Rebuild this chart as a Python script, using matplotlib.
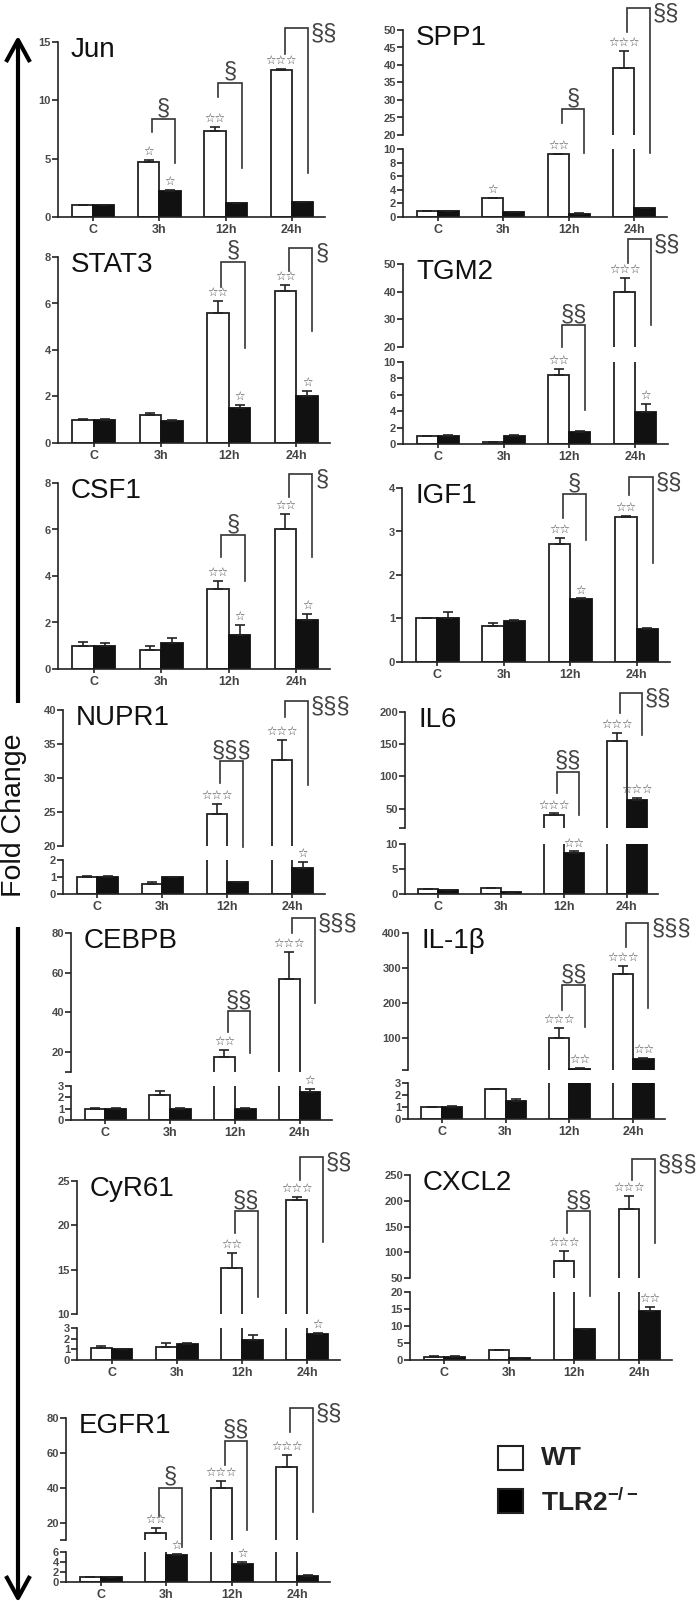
import matplotlib.pyplot as plt
import numpy as np
from matplotlib.lines import Line2D

plt.rcParams['font.family'] = ['Liberation Sans', 'DejaVu Sans']
plt.rcParams['mathtext.fontset'] = 'custom'
plt.rcParams['mathtext.bf'] = 'Liberation Sans:bold'
plt.rcParams['mathtext.rm'] = 'Liberation Sans'

CATS = ['C', '3h', '12h', '24h']

# values: WT (open bars) and TLR2-/- (filled bars), fold change
JUN_WT = [1.0, 4.75, 7.35, 12.6]
JUN_WT_ERR = [0.03, 0.15, 0.35, 0.08]
JUN_KO = [1.0, 2.25, 1.2, 1.25]
JUN_KO_ERR = [0.05, 0.06, 0.04, 0.06]
JUN_WT_STARS = [0, 1, 2, 3]
JUN_KO_STARS = [0, 1, 0, 0]
JUN_SIG = [(1, 7.3, 8.4, 4.6, 1, 'top'), (2, 10.3, 11.5, 4.2, 1, 'top'), (3, 14.0, 16.2, 3.8, 2, 'right')]

SPP1_WT = [0.9, 2.75, 9.2, 39.0]
SPP1_WT_ERR = [0.05, 0.1, 0.12, 5.0]
SPP1_KO = [0.9, 0.75, 0.5, 1.25]
SPP1_KO_ERR = [0.05, 0.05, 0.05, 0.05]
SPP1_WT_STARS = [0, 1, 2, 3]
SPP1_KO_STARS = [0, 0, 0, 0]
SPP1_SIG = [(2, 23.4, 27.4, 14.9, 1, 'top'), (3, 49.4, 56.3, 14.9, 2, 'right')]

STAT3_WT = [1.0, 1.22, 5.6, 6.55]
STAT3_WT_ERR = [0.02, 0.05, 0.5, 0.25]
STAT3_KO = [1.0, 0.93, 1.5, 2.03]
STAT3_KO_ERR = [0.02, 0.04, 0.15, 0.22]
STAT3_WT_STARS = [0, 0, 2, 2]
STAT3_KO_STARS = [0, 0, 1, 1]
STAT3_SIG = [(2, 6.7, 7.8, 4.1, 1, 'top'), (3, 7.4, 8.4, 4.8, 1, 'right')]

TGM2_WT = [0.95, 0.25, 8.4, 40.0]
TGM2_WT_ERR = [0.03, 0.05, 0.8, 5.0]
TGM2_KO = [1.0, 1.0, 1.5, 3.9]
TGM2_KO_ERR = [0.05, 0.1, 0.05, 1.0]
TGM2_WT_STARS = [0, 0, 2, 3]
TGM2_KO_STARS = [0, 0, 0, 1]
TGM2_SIG = [(2, 20.0, 27.9, -2.7, 2, 'top'), (3, 50.3, 59.0, 27.9, 2, 'right')]

CSF1_WT = [1.0, 0.82, 3.42, 6.0]
CSF1_WT_ERR = [0.15, 0.18, 0.35, 0.65]
CSF1_KO = [1.0, 1.1, 1.48, 2.12]
CSF1_KO_ERR = [0.1, 0.25, 0.4, 0.25]
CSF1_WT_STARS = [0, 0, 2, 2]
CSF1_KO_STARS = [0, 0, 1, 1]
CSF1_SIG = [(2, 4.8, 5.76, 3.8, 1, 'top'), (3, 7.4, 8.4, 4.8, 1, 'right')]

IGF1_WT = [1.0, 0.83, 2.72, 3.33]
IGF1_WT_ERR = [0.01, 0.06, 0.12, 0.02]
IGF1_KO = [1.0, 0.95, 1.44, 0.77]
IGF1_KO_ERR = [0.15, 0.02, 0.02, 0.02]
IGF1_WT_STARS = [0, 0, 2, 2]
IGF1_KO_STARS = [0, 0, 1, 0]
IGF1_SIG = [(2, 3.3, 3.86, 2.8, 1, 'top'), (3, 3.85, 4.25, 2.27, 2, 'right')]

NUPR1_WT = [1.0, 0.58, 24.7, 32.7]
NUPR1_WT_ERR = [0.06, 0.1, 1.5, 2.9]
NUPR1_KO = [1.0, 1.0, 0.7, 1.55]
NUPR1_KO_ERR = [0.06, 0.02, 0.02, 0.35]
NUPR1_WT_STARS = [0, 0, 3, 3]
NUPR1_KO_STARS = [0, 0, 0, 1]
NUPR1_SIG = [(2, 29.3, 32.5, 19.9, 3, 'top'), (3, 39.0, 41.3, 29.0, 3, 'right')]

IL6_WT = [0.9, 1.2, 40.0, 155.0]
IL6_WT_ERR = [0.05, 0.05, 2.5, 13.0]
IL6_KO = [0.8, 0.3, 8.2, 63.0]
IL6_KO_ERR = [0.05, 0.03, 0.3, 4.0]
IL6_WT_STARS = [0, 0, 3, 3]
IL6_KO_STARS = [0, 0, 2, 3]
IL6_SIG = [(2, 74, 107, 40, 2, 'top'), (3, 198, 229, 164, 2, 'right')]

CEBPB_WT = [1.0, 2.2, 17.8, 57.0]
CEBPB_WT_ERR = [0.03, 0.4, 3.2, 13.5]
CEBPB_KO = [1.0, 1.0, 1.0, 2.5]
CEBPB_KO_ERR = [0.02, 0.03, 0.05, 0.25]
CEBPB_WT_STARS = [0, 0, 2, 3]
CEBPB_KO_STARS = [0, 0, 0, 1]
CEBPB_SIG = [(2, 30, 40.7, 19.6, 2, 'top'), (3, 80, 87.5, 44.7, 3, 'right')]

IL1B_WT = [1.0, 2.5, 102, 282]
IL1B_WT_ERR = [0.02, 0.03, 28, 23]
IL1B_KO = [1.0, 1.5, 13, 42]
IL1B_KO_ERR = [0.05, 0.2, 1.5, 3]
IL1B_WT_STARS = [0, 0, 3, 3]
IL1B_KO_STARS = [0, 0, 2, 2]
IL1B_SIG = [(2, 181, 252, 132, 2, 'top'), (3, 360, 429, 187, 3, 'right')]

CYR61_WT = [1.1, 1.2, 15.2, 22.9]
CYR61_WT_ERR = [0.2, 0.35, 1.7, 0.3]
CYR61_KO = [1.0, 1.5, 1.85, 2.45]
CYR61_KO_ERR = [0.03, 0.05, 0.5, 0.08]
CYR61_WT_STARS = [0, 0, 2, 3]
CYR61_KO_STARS = [0, 0, 0, 1]
CYR61_SIG = [(2, 19.1, 21.6, 11.9, 2, 'top'), (3, 25.1, 27.7, 18.1, 2, 'right')]

CXCL2_WT = [1.0, 3.0, 83, 184]
CXCL2_WT_ERR = [0.05, 0.05, 19, 25]
CXCL2_KO = [1.0, 0.5, 9.2, 14.3]
CXCL2_KO_ERR = [0.3, 0.05, 0.05, 1.4]
CXCL2_WT_STARS = [0, 0, 3, 3]
CXCL2_KO_STARS = [0, 0, 0, 2]
CXCL2_SIG = [(2, 137, 180, 15, 2, 'top'), (3, 240, 281, 118, 3, 'right')]

EGFR1_WT = [1.0, 14.0, 40.0, 52.0]
EGFR1_WT_ERR = [0.05, 3.0, 4.0, 6.5]
EGFR1_KO = [1.0, 5.5, 3.7, 1.3]
EGFR1_KO_ERR = [0.05, 0.2, 0.25, 0.1]
EGFR1_WT_STARS = [0, 2, 3, 3]
EGFR1_KO_STARS = [0, 1, 1, 0]
EGFR1_SIG = [(1, 24, 40, 6, 1, 'top'), (2, 53, 67, 16, 2, 'top'), (3, 72, 86, 26, 2, 'right')]

# layout in pixels: x spine, x end, segments (ylim, ytop, ybottom, ticks, hide lowest label)
LAYOUT = {
    'Jun':   (58, 325, [((0, 15), 42, 217, [0, 5, 10, 15], False)]),
    'SPP1':  (403, 667, [((20, 50), 30, 135, [20, 25, 30, 35, 40, 45, 50], False),
                         ((0, 10), 149, 217, [0, 2, 4, 6, 8, 10], False)]),
    'STAT3': (58, 330, [((0, 8), 257, 443, [0, 2, 4, 6, 8], False)]),
    'TGM2':  (403, 668, [((20, 50), 264, 347, [20, 30, 40, 50], False),
                         ((0, 10), 362, 444, [0, 2, 4, 6, 8, 10], False)]),
    'CSF1':  (58, 330, [((0, 8), 483, 669, [0, 2, 4, 6, 8], False)]),
    'IGF1':  (402, 670, [((0, 4), 488, 662, [0, 1, 2, 3, 4], False)]),
    'NUPR1': (63, 325, [((20, 40), 710, 846, [20, 25, 30, 35, 40], False),
                        ((0, 2), 860, 894, [0, 1, 2], False)]),
    'IL6':   (405, 658, [((20, 200), 712, 828, [20, 50, 100, 150, 200], True),
                         ((0, 10), 844, 894, [0, 5, 10], False)]),
    'CEBPB': (71, 332, [((10, 80), 933, 1072, [10, 20, 40, 60, 80], True),
                        ((0, 3), 1086, 1120, [0, 1, 2, 3], False)]),
    'IL-1β': (408, 665, [((10, 400), 933, 1070, [10, 100, 200, 300, 400], True),
                         ((0, 3), 1083, 1119, [0, 1, 2, 3], False)]),
    'CyR61': (77, 340, [((10, 25), 1181, 1314, [10, 15, 20, 25], False),
                        ((0, 3), 1328, 1360, [0, 1, 2, 3], False)]),
    'CXCL2': (410, 672, [((50, 250), 1175, 1278, [50, 100, 150, 200, 250], False),
                         ((0, 20), 1292, 1360, [0, 5, 10, 15, 20], False)]),
    'EGFR1': (66, 330, [((10, 80), 1418, 1540, [10, 20, 40, 60, 80], True),
                        ((0, 6), 1552, 1582, [0, 2, 4, 6], False)]),
}

W, H = 700, 1601
fig = plt.figure(figsize=(7, 16.01), dpi=100)
INK = '#222222'
GREY = '#444444'
BW = 0.32


def px_axes(x0, x1, ytop, ybot):
    ax = fig.add_axes([x0 / W, 1 - ybot / H, (x1 - x0) / W, (ybot - ytop) / H])
    ax.patch.set_visible(False)
    return ax


def panel(name, wt, wt_err, ko, ko_err, wt_stars, ko_stars, sigs):
    x0, x1, segs = LAYOUT[name]
    axes = []
    x = np.arange(len(CATS))
    for i, (ylim, ytop, ybot, ticks, hide) in enumerate(segs):
        ax = px_axes(x0, x1, ytop, ybot)
        last = i == len(segs) - 1
        ax.set_xlim(-0.53, 3.5)
        ax.set_ylim(*ylim)
        for s in ['top', 'right']:
            ax.spines[s].set_visible(False)
        ax.spines['left'].set_linewidth(1.2)
        ax.spines['left'].set_color(INK)
        if last:
            ax.spines['bottom'].set_linewidth(1.2)
            ax.spines['bottom'].set_color(INK)
            ax.set_xticks(x)
            ax.set_xticklabels(CATS, fontweight='bold')
            ax.tick_params(axis='x', length=3, width=1.2, pad=2, labelsize=9, colors=INK,
                           labelcolor='#444444')
        else:
            ax.spines['bottom'].set_visible(False)
            ax.set_xticks([])
        labels = [str(t) for t in ticks]
        if hide:
            labels[0] = ''
        ax.set_yticks(ticks)
        ax.set_yticklabels(labels, fontweight='bold')
        ax.tick_params(axis='y', length=4, width=1.2, pad=1, labelsize=8, colors=INK,
                       labelcolor='#4a4a4a')
        ax.bar(x - BW / 2, wt, BW, color='white', edgecolor=INK, linewidth=1.3)
        ax.bar(x + BW / 2, ko, BW, color='#111111', edgecolor='#111111', linewidth=1.3)
        ax.errorbar(x - BW / 2, wt, yerr=[np.zeros(4), wt_err], fmt='none', ecolor=INK,
                    elinewidth=1.2, capsize=3.5, capthick=1.2)
        ax.errorbar(x + BW / 2, ko, yerr=[np.zeros(4), ko_err], fmt='none', ecolor=INK,
                    elinewidth=1.2, capsize=3.5, capthick=1.2)
        axes.append(ax)
    top_ax = axes[0]
    low_ax = axes[-1]
    low_top = segs[-1][0][1]

    def star(xc, val, n):
        if n == 0:
            return
        ax = low_ax if (len(axes) > 1 and val <= low_top) else top_ax
        ax.annotate('☆' * n, (xc, val), xytext=(0, 1.5), textcoords='offset points',
                    ha='center', va='bottom', fontsize=8.5, color=GREY,
                    family=['DejaVu Sans'], annotation_clip=False)

    for i in range(len(CATS)):
        star(i - BW / 2, wt[i] + wt_err[i], wt_stars[i])
        star(i + BW / 2, ko[i] + ko_err[i], ko_stars[i])

    for idx, lb, top, rb, n, pos in sigs:
        xl = idx - BW / 2 + 0.05
        xr = idx + BW / 2 + 0.08
        top_ax.plot([xl, xl, xr, xr], [lb, top, top, rb], color='#333333', lw=1.2,
                    clip_on=False, solid_joinstyle='miter')
        if pos == 'top':
            top_ax.annotate('§' * n, ((xl + xr) / 2, top), xytext=(0, 0), textcoords='offset points',
                            ha='center', va='bottom', fontsize=17, color=GREY,
                            annotation_clip=False)
        else:
            top_ax.annotate('§' * n, (xr, top), xytext=(2, 4), textcoords='offset points',
                            ha='left', va='top', fontsize=17, color=GREY,
                            annotation_clip=False)

    segs0 = segs[0]
    fig.text((x0 + 13) / W, 1 - (segs0[1] - 5) / H, name, ha='left', va='top',
             fontsize=20, color='#111111')


panel('Jun', JUN_WT, JUN_WT_ERR, JUN_KO, JUN_KO_ERR, JUN_WT_STARS, JUN_KO_STARS, JUN_SIG)
panel('SPP1', SPP1_WT, SPP1_WT_ERR, SPP1_KO, SPP1_KO_ERR, SPP1_WT_STARS, SPP1_KO_STARS, SPP1_SIG)
panel('STAT3', STAT3_WT, STAT3_WT_ERR, STAT3_KO, STAT3_KO_ERR, STAT3_WT_STARS, STAT3_KO_STARS, STAT3_SIG)
panel('TGM2', TGM2_WT, TGM2_WT_ERR, TGM2_KO, TGM2_KO_ERR, TGM2_WT_STARS, TGM2_KO_STARS, TGM2_SIG)
panel('CSF1', CSF1_WT, CSF1_WT_ERR, CSF1_KO, CSF1_KO_ERR, CSF1_WT_STARS, CSF1_KO_STARS, CSF1_SIG)
panel('IGF1', IGF1_WT, IGF1_WT_ERR, IGF1_KO, IGF1_KO_ERR, IGF1_WT_STARS, IGF1_KO_STARS, IGF1_SIG)
panel('NUPR1', NUPR1_WT, NUPR1_WT_ERR, NUPR1_KO, NUPR1_KO_ERR, NUPR1_WT_STARS, NUPR1_KO_STARS, NUPR1_SIG)
panel('IL6', IL6_WT, IL6_WT_ERR, IL6_KO, IL6_KO_ERR, IL6_WT_STARS, IL6_KO_STARS, IL6_SIG)
panel('CEBPB', CEBPB_WT, CEBPB_WT_ERR, CEBPB_KO, CEBPB_KO_ERR, CEBPB_WT_STARS, CEBPB_KO_STARS, CEBPB_SIG)
panel('IL-1β', IL1B_WT, IL1B_WT_ERR, IL1B_KO, IL1B_KO_ERR, IL1B_WT_STARS, IL1B_KO_STARS, IL1B_SIG)
panel('CyR61', CYR61_WT, CYR61_WT_ERR, CYR61_KO, CYR61_KO_ERR, CYR61_WT_STARS, CYR61_KO_STARS, CYR61_SIG)
panel('CXCL2', CXCL2_WT, CXCL2_WT_ERR, CXCL2_KO, CXCL2_KO_ERR, CXCL2_WT_STARS, CXCL2_KO_STARS, CXCL2_SIG)
panel('EGFR1', EGFR1_WT, EGFR1_WT_ERR, EGFR1_KO, EGFR1_KO_ERR, EGFR1_WT_STARS, EGFR1_KO_STARS, EGFR1_SIG)


# double-headed "Fold Change" arrow on the left
def fline(xs, ys, lw):
    fig.add_artist(Line2D([v / W for v in xs], [1 - v / H for v in ys], color='black',
                          lw=lw, solid_capstyle='butt', transform=fig.transFigure))


fline([18, 18], [42, 703], 3)
fline([6, 18, 30], [62, 40, 62], 3)
fline([18, 18], [927, 1596], 3)
fline([6, 18, 30], [1576, 1598, 1576], 3)
fig.text(14 / W, 1 - 815 / H, 'Fold Change', rotation=90, ha='center', va='center',
         fontsize=20.5, color='#111111')

# legend
for yb, fc in [(1446, 'white'), (1489, 'black')]:
    fig.add_artist(plt.Rectangle((498 / W, 1 - (yb + 24) / H), 25 / W, 24 / H, facecolor=fc,
                                 edgecolor=INK, lw=1.5, transform=fig.transFigure))
fig.text(541 / W, 1 - 1458 / H, 'WT', ha='left', va='center', fontsize=19,
         fontweight='bold', color='#222222')
fig.text(541 / W, 1 - 1502 / H, r'$\mathbf{TLR2^{-/-}}$', ha='left', va='center',
         fontsize=19, color='#222222')

fig.savefig('out.png', dpi=100)
